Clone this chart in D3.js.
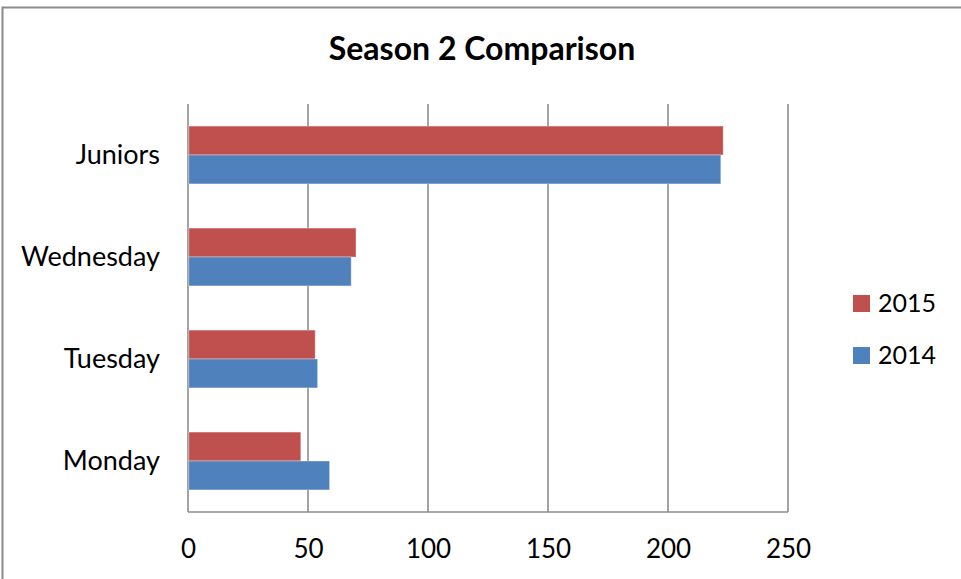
<!DOCTYPE html>
<html><head><meta charset="utf-8">
<script src="https://cdn.jsdelivr.net/npm/d3@7/dist/d3.min.js"></script>
<style>body{margin:0;background:#fff;} text{font-family:Lato,"Open Sans",sans-serif;fill:#000;}</style>
</head><body>
<svg id="c" width="961" height="579"></svg>
<script>
const categories = ["Juniors", "Wednesday", "Tuesday", "Monday"];
const seriesNames = ["2015", "2014"];
const values2015 = [223, 70, 53, 47];
const values2014 = [222, 68, 54, 59];
const xTicks = [0, 50, 100, 150, 200, 250];
const colors = ["#C0504D", "#4F81BD"];

const svg = d3.select("#c");
svg.append("rect").attr("x", 2.5).attr("y", 7.5).attr("width", 1000).attr("height", 1000)
  .attr("fill", "#fff").attr("stroke", "#8a8a8a").attr("stroke-width", 2);

const pLeft = 188, pRight = 788, pTop = 104, pBottom = 512;
const x = d3.scaleLinear().domain([0, 250]).range([pLeft, pRight]);
const y = d3.scaleBand().domain(categories).range([pTop, pBottom]).paddingInner(0.433).paddingOuter(0.2165);
const ys = d3.scaleBand().domain(seriesNames).range([0, y.bandwidth()]);

// gridlines
svg.append("g").selectAll("line").data(xTicks).join("line")
  .attr("x1", d => x(d)).attr("x2", d => x(d)).attr("y1", pTop).attr("y2", pBottom)
  .attr("stroke", "#8c8c8c").attr("stroke-width", 1.6);
svg.append("line").attr("x1", pLeft).attr("x2", pRight).attr("y1", pBottom).attr("y2", pBottom)
  .attr("stroke", "#8c8c8c").attr("stroke-width", 1.6);

const data = categories.map((c, i) => ({cat: c, vals: [values2015[i], values2014[i]]}));
const g = svg.append("g");
data.forEach(d => {
  seriesNames.forEach((s, j) => {
    g.append("rect")
      .attr("x", x(0) + 0.8)
      .attr("y", y(d.cat) + ys(s))
      .attr("width", x(d.vals[j]) - x(0) - 0.8)
      .attr("height", ys.bandwidth())
      .attr("fill", colors[j])
      .attr("stroke", "rgba(255,255,255,0.35)").attr("stroke-width", 1);
  });
});

// x axis labels
const xAxis = d3.axisBottom(x).tickValues(xTicks).tickSize(0).tickPadding(0);
const xa = svg.append("g").attr("transform", `translate(0,${pBottom + 37})`).call(xAxis);
xa.select(".domain").remove();
xa.selectAll("text").attr("font-size", 26).attr("dy", "0.35em").attr("font-family", "Lato");

// y axis labels
const yAxis = d3.axisLeft(y).tickSize(0).tickPadding(0);
const ya = svg.append("g").attr("transform", `translate(160,0)`).call(yAxis);
ya.select(".domain").remove();
ya.selectAll("text").attr("font-size", 27).attr("dy", "0.35em").attr("font-family", "Lato");

// title
svg.append("text").attr("x", 482).attr("y", 49).attr("text-anchor", "middle")
  .attr("dy", "0.35em").attr("font-size", 32).attr("font-weight", "bold").text("Season 2 Comparison");

// legend
const leg = svg.append("g");
seriesNames.forEach((s, j) => {
  const cy = 303.5 + j * 52;
  leg.append("rect").attr("x", 853).attr("y", cy - 8.5).attr("width", 17).attr("height", 17).attr("fill", colors[j]);
  leg.append("text").attr("x", 878).attr("y", cy).attr("dy", "0.35em").attr("font-size", 25).text(s);
});
</script>
</body></html>
